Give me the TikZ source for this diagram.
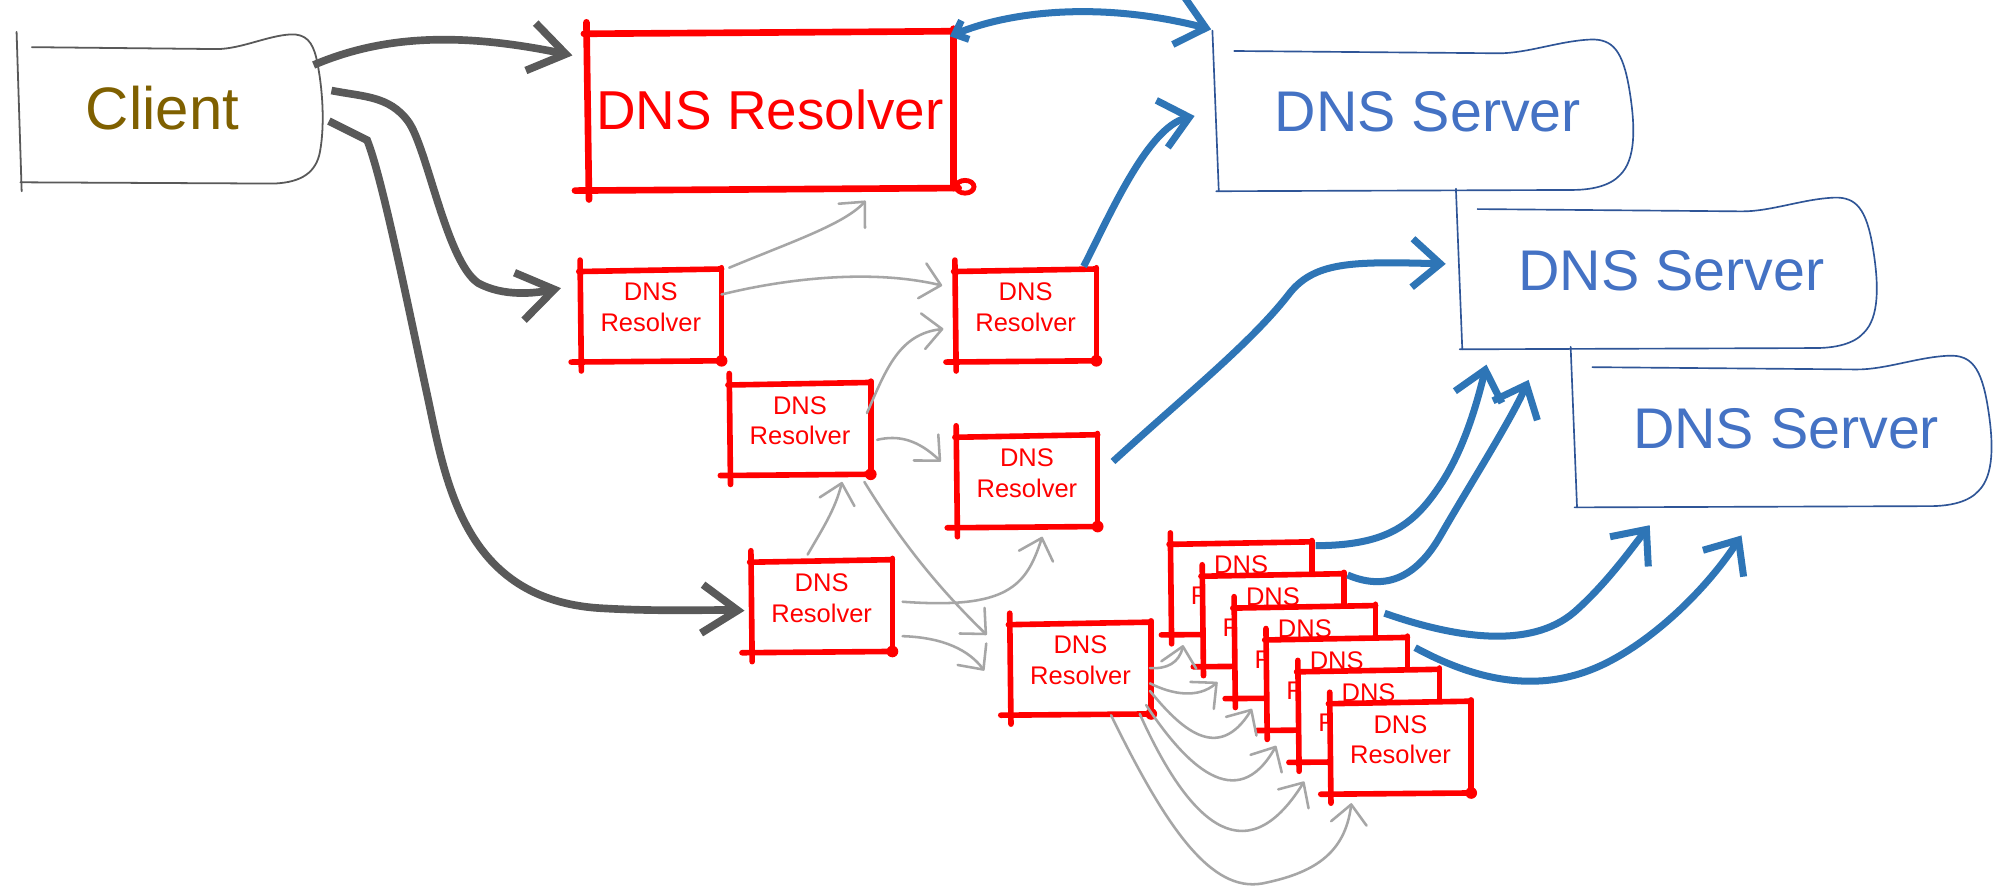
\documentclass[tikz,border=0pt]{standalone}
\usepackage{fontspec}
\setmainfont{Liberation Sans}
\usetikzlibrary{arrows.meta,calc}
\definecolor{rred}{HTML}{FF0000}
\definecolor{dgray}{HTML}{595959}
\definecolor{lgray}{HTML}{A6A6A6}
\definecolor{barrow}{HTML}{2E75B6}
\definecolor{sline}{HTML}{2F5597}
\definecolor{stext}{HTML}{4472C4}
\definecolor{ctext}{HTML}{7F6000}
\newcommand\mkres[2]{%
  \node[sres] (#1) at (#2) {DNS\\Resolver\\[-12pt]\mbox{}};
  \begin{scope}[shift={(#1.north west)}]
    \draw[redl] (0,-7) -- (1,80);
    \draw[redl] (-1,2) -- (111,0);
    \draw[redl] (111,-1) -- (111,72);
    \draw[redl] (-7,73) -- (111,72);
    \fill[rred] (111,72) circle[radius=4.6pt];
  \end{scope}}
\begin{document}
\begin{tikzpicture}[x=1pt,y=-1pt,
  redl/.style={draw=rred,line width=4.4pt,line cap=round},
  redb/.style={draw=rred,line width=5.2pt,line cap=round},
  sres/.style={fill=white,inner sep=0pt,outer sep=0pt,minimum width=111pt,minimum height=72pt,align=center,text=rred,font=\fontsize{20}{24}\selectfont},
  srvl/.style={draw=sline,line width=1.3pt,line cap=round,line join=round},
  clil/.style={draw=dgray,line width=1.4pt,line cap=round,line join=round},
  srv/.style={text=stext,font=\fontsize{45}{54}\selectfont,inner sep=0pt},
  darr/.style={draw=dgray,line width=6pt,-{Straight Barb[length=28pt,width=38pt]}},
  barr/.style={draw=barrow,line width=5.5pt,-{Straight Barb[length=22pt,width=38pt]}},
  larr/.style={draw=lgray,line width=2pt,line cap=round,-{Straight Barb[length=15pt,width=28pt,round]}},
]
\fill[white] (0,0) rectangle (1568,700);
\useasboundingbox (0,0) rectangle (1568,700);

% Client
\node[font=\fontsize{47}{56}\selectfont,text=ctext,inner sep=0pt] (client) at (127.5,85) {Client};
\begin{scope}[shift={($(client.center)+(-112.5,-48)$)}]
  \draw[clil] (10,0) -- (156,1.5) .. controls (175,1) and (195,-9) .. (213,-10) .. controls (225,-10.5) and (230,-4) .. (233,8) .. controls (238,30) and (240,60) .. (236,82) .. controls (233,98) and (222,106) .. (200,107) -- (1,106);
  \draw[clil] (-2,-12) -- (2,113);
\end{scope}

% DNS servers
\node[srv] (s1) at (1120,88) {DNS Server};
\node[srv] (s2) at (1311,212) {DNS Server};
\node[srv] (s3) at (1401,336) {DNS Server};
\foreach \s in {s1,s2,s3}{
  \begin{scope}[shift={($(\s.center)+(-167,-48)$)}]
    \draw[srvl] (15,0) -- (222,1.8) .. controls (245,2) and (270,-8) .. (295,-9) .. controls (312,-9.5) and (320,0) .. (325,30) .. controls (330,60) and (330,85) .. (318,97) .. controls (310,106) and (295,109) .. (280,109) -- (1,110);
    \draw[srvl] (-2,-16) -- (3,110);
  \end{scope}
}

% big resolver
\node[fill=white,inner sep=0pt,outer sep=0pt,minimum width=288pt,minimum height=123pt,text=rred,font=\fontsize{43}{52}\selectfont] (res0) at (604,86) {DNS Resolver};
\begin{scope}[shift={(res0.north west)}]
  \draw[redb] (0,-7) -- (2,132);
  \draw[redb] (-2,2) -- (288,0);
  \draw[redb] (288,-2) -- (288,123);
  \draw[redb] (-9,125) -- (292,123);
  \draw[redb,line width=3.8pt] (297,122) ellipse[x radius=7pt,y radius=5pt];
\end{scope}

% small resolvers
\mkres{r1}{510.5,247}
\mkres{r2}{804.5,247}
\mkres{r3}{627.5,336}
\mkres{r4}{805.5,377}
\mkres{r5}{644.5,475}
\mkres{r6}{847.5,524}
\foreach \k in {0,...,5}{
  \mkres{st\k}{{973.5+25*\k},{461+25*\k}}
}

% dark gray arrows from client
\draw[darr] ($(client.center)+(118.5,-34)$) .. controls (300,28) and (360,25) .. ($(res0.north west)+(-11,19)$);
\draw[darr] ($(client.center)+(132.5,-14)$) .. controls (285,76) and (305,75) .. (320,95) .. controls (335,115) and (350,205) .. (375,222) .. controls (395,233) and (420,230) .. ($(r1.west)+(-15,-21)$);
\draw[darr] ($(client.center)+(130.5,10)$) -- (288,110) .. controls (300,140) and (320,240) .. (336,314) .. controls (350,380) and (365,470) .. (470,477) .. controls (520,480) and (560,478) .. ($(r5.west)+(-5,4)$);

% blue arrows
\draw[barr,{Straight Barb[length=9pt,width=16pt]}-{Straight Barb[length=22pt,width=38pt]}] ($(res0.north east)+(-3,4)$) .. controls (790,10) and (860,0) .. ($(s1.center)+(-170,-65)$);
\draw[barr] ($(r2.north east)+(-10,-2)$) .. controls (870,170) and (900,100) .. ($(s1.center)+(-183,3)$);
\draw[barr] ($(r4.east)+(12,-15)$) .. controls (930,310) and (980,270) .. (1010,232) .. controls (1030,205) and (1060,205) .. ($(s2.center)+(-177,-5)$);
\draw[barr] ($(st0.north east)+(3,3)$) .. controls (1090,428) and (1110,410) .. (1130,380) .. controls (1150,350) and (1160,310) .. ($(s2.center)+(-145,74)$);
\draw[barr] ($(st1.north east)+(3,1)$) .. controls (1085,463) and (1110,455) .. (1130,420) .. controls (1150,385) and (1185,330) .. ($(s2.center)+(-112,86)$);
\draw[barr] ($(st2.north east)+(7,6)$) .. controls (1140,500) and (1200,510) .. (1235,480) .. controls (1260,458) and (1280,430) .. ($(s3.center)+(-107,76)$);
\draw[barr] ($(st3.north east)+(6,8)$) .. controls (1160,535) and (1210,545) .. (1260,520) .. controls (1300,500) and (1340,460) .. ($(s3.center)+(-35,84)$);

% light gray arrows
\draw[larr] ($(r1.north east)+(6,-1)$) .. controls (620,190) and (662,176) .. ($(res0.south west)+(219,10)$);
\draw[larr] ($(r1.east)+(0,-16)$) .. controls (610,220) and (680,210) .. ($(r2.west)+(-10,-23)$);
\draw[larr] ($(r3.north east)+(-3,24)$) .. controls (695,290) and (705,262) .. ($(r2.west)+(-9,11)$);
\draw[larr] ($(r3.east)+(5,9)$) .. controls (705,341) and (720,345) .. ($(r4.west)+(-12,-15)$);
\draw[larr] ($(r5.north)+(-11,-4)$) .. controls (645,415) and (655,400) .. ($(r3.south)+(33,6)$);
\draw[larr] ($(r3.south east)+(-5,6)$) .. controls (710,430) and (740,465) .. ($(r6.north west)+(-18,10)$);
\draw[larr] ($(r5.east)+(8,-3)$) .. controls (790,478) and (805,460) .. ($(r4.south)+(12,8)$);
\draw[larr] ($(r5.east)+(8,24)$) .. controls (740,500) and (760,510) .. ($(r6.west)+(-20,2)$);
\draw[larr] ($(r6.east)+(-1,0)$) .. controls (915,525) and (925,520) .. ($(st0.south west)+(10,9)$);
\draw[larr] ($(r6.east)+(-1,12)$) .. controls (920,545) and (940,548) .. ($(st1.south west)+(12,13)$);
\draw[larr] ($(r6.east)+(-1,18)$) .. controls (925,570) and (955,600) .. ($(st2.south west)+(14,9)$);
\draw[larr] ($(r6.south east)+(-4,-7)$) .. controls (930,600) and (970,640) .. ($(st3.south west)+(8,13)$);
\draw[larr] ($(r6.south east)+(-9,0)$) .. controls (930,640) and (975,690) .. ($(st4.south west)+(5,16)$);
\draw[larr] ($(r6.south)+(24,1)$) .. controls (915,650) and (950,700) .. (990,693) .. controls (1030,685) and (1055,670) .. ($(st5.south west)+(17,8)$);
\end{tikzpicture}
\end{document}
